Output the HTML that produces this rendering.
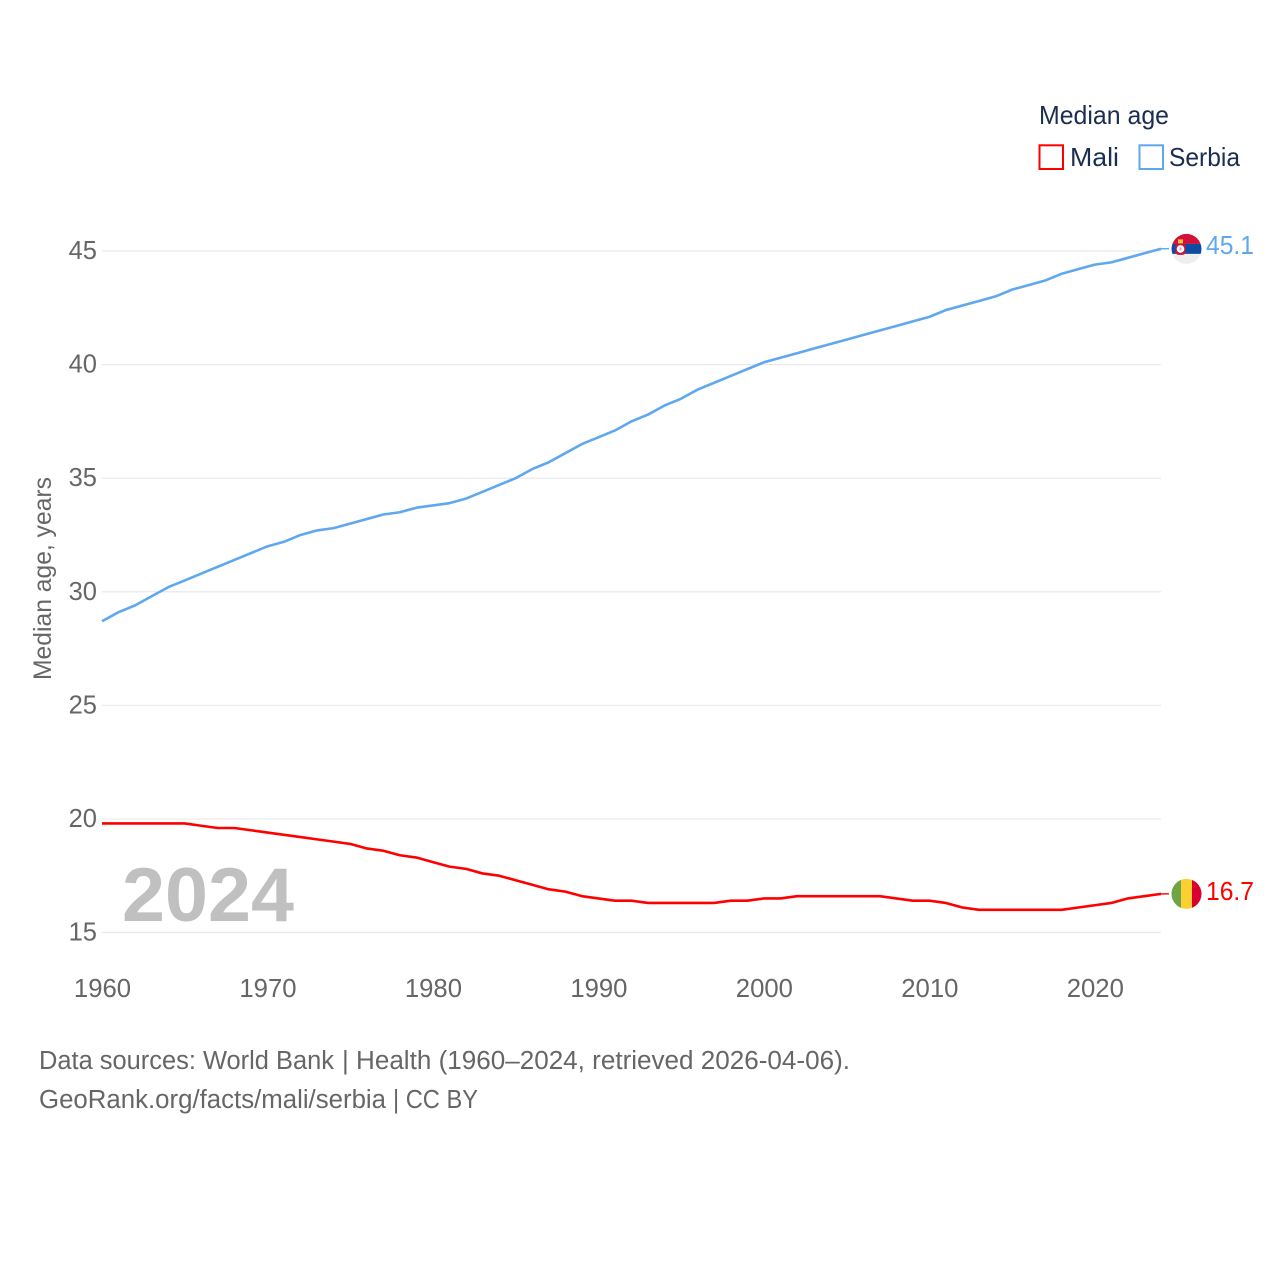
<!DOCTYPE html>
<html lang="en">
<head>
<meta charset="utf-8">
<title>Median age: Mali and Serbia</title>
<style>
html,body{margin:0;padding:0;background:#fff;width:1280px;height:1280px;overflow:hidden}
svg{display:block}
text{font-family:"Liberation Sans",sans-serif}
</style>
</head>
<body>
<svg id="chart" xmlns="http://www.w3.org/2000/svg" width="1280" height="1280" viewBox="0 0 1280 1280">
  <defs>
    <clipPath id="flag-clip-serbia"><circle id="clip-serbia" cx="1186.5" cy="248.5" r="15"></circle></clipPath>
    <clipPath id="flag-clip-mali"><circle id="clip-mali" cx="1186.5" cy="893" r="15"></circle></clipPath>
  </defs>
  <rect width="1280" height="1280" fill="#ffffff"></rect>
  <g id="grid"></g>
  <g id="y-ticks"></g>
  <g id="x-ticks"></g>
  <text transform="translate(51,680) rotate(-90)" font-size="25" fill="#666666" textLength="203" lengthAdjust="spacingAndGlyphs">Median age, years</text>
  <text x="122" y="921" font-size="76" font-weight="700" fill="#c0c0c0" textLength="172" lengthAdjust="spacingAndGlyphs">2024</text>
  <g id="series"></g>
  <g id="flags"></g>
  <g>
    <text x="1039" y="124" font-size="26" fill="#1a2e4f" textLength="130" lengthAdjust="spacingAndGlyphs">Median age</text>
    <rect x="1039.5" y="145.3" width="23.5" height="23.7" fill="none" stroke="#ff0000" stroke-width="2"></rect>
    <text x="1070" y="166" font-size="26" fill="#1a2e4f" textLength="49" lengthAdjust="spacingAndGlyphs">Mali</text>
    <rect x="1139.5" y="145.3" width="23.5" height="23.7" fill="none" stroke="#5fa8ee" stroke-width="2"></rect>
    <text x="1169" y="166" font-size="26" fill="#1a2e4f" textLength="71" lengthAdjust="spacingAndGlyphs">Serbia</text>
  </g>
  <g font-size="25.5" fill="#666666">
    <text x="39" y="1069" textLength="295" lengthAdjust="spacingAndGlyphs">Data sources: World Bank</text>
    <text x="342" y="1069" textLength="508" lengthAdjust="spacingAndGlyphs">| Health (1960–2024, retrieved 2026-04-06).</text>
  </g>
  <g font-size="25.5" fill="#666666">
    <text x="39" y="1108" textLength="347" lengthAdjust="spacingAndGlyphs">GeoRank.org/facts/mali/serbia</text>
    <text x="393" y="1108" textLength="85" lengthAdjust="spacingAndGlyphs">| CC BY</text>
  </g>
</svg>
<script>
const years = [1960,1961,1962,1963,1964,1965,1966,1967,1968,1969,1970,1971,1972,1973,1974,1975,1976,1977,1978,1979,1980,1981,1982,1983,1984,1985,1986,1987,1988,1989,1990,1991,1992,1993,1994,1995,1996,1997,1998,1999,2000,2001,2002,2003,2004,2005,2006,2007,2008,2009,2010,2011,2012,2013,2014,2015,2016,2017,2018,2019,2020,2021,2022,2023,2024];
const serbiaValues = [28.7,29.1,29.4,29.8,30.2,30.5,30.8,31.1,31.4,31.7,32.0,32.2,32.5,32.7,32.8,33.0,33.2,33.4,33.5,33.7,33.8,33.9,34.1,34.4,34.7,35.0,35.4,35.7,36.1,36.5,36.8,37.1,37.5,37.8,38.2,38.5,38.9,39.2,39.5,39.8,40.1,40.3,40.5,40.7,40.9,41.1,41.3,41.5,41.7,41.9,42.1,42.4,42.6,42.8,43.0,43.3,43.5,43.7,44.0,44.2,44.4,44.5,44.7,44.9,45.1];
const maliValues = [19.8,19.8,19.8,19.8,19.8,19.8,19.7,19.6,19.6,19.5,19.4,19.3,19.2,19.1,19.0,18.9,18.7,18.6,18.4,18.3,18.1,17.9,17.8,17.6,17.5,17.3,17.1,16.9,16.8,16.6,16.5,16.4,16.4,16.3,16.3,16.3,16.3,16.3,16.4,16.4,16.5,16.5,16.6,16.6,16.6,16.6,16.6,16.6,16.5,16.4,16.4,16.3,16.1,16.0,16.0,16.0,16.0,16.0,16.0,16.1,16.2,16.3,16.5,16.6,16.7];
const yTickValues = [15,20,25,30,35,40,45];
const xTickValues = [1960,1970,1980,1990,2000,2010,2020];

const NS = 'http://www.w3.org/2000/svg';
const xOf = function (year) { return 102 + (year - 1960) * (1161 - 102) / 64; };
const yOf = function (value) { return 932.5 - (value - 15) * (932.5 - 251) / 30; };

function make(tag, parent, attrs) {
  const el = document.createElementNS(NS, tag);
  Object.keys(attrs).forEach(function (k) { el.setAttribute(k, attrs[k]); });
  parent.appendChild(el);
  return el;
}

const gridGroup = document.getElementById('grid');
const yTickGroup = document.getElementById('y-ticks');
yTickValues.forEach(function (v) {
  const line = make('line', gridGroup, {x1: 102, x2: 1161, y1: yOf(v), y2: yOf(v), stroke: '#e9e9e9', 'stroke-width': 1.2});
  
  
  const label = make('text', yTickGroup, {x: 97, y: yOf(v) + 8, 'font-size': 25.5, fill: '#666666', 'text-anchor': 'end'});
  label.textContent = v;
  
  
});

const xTickGroup = document.getElementById('x-ticks');
xTickValues.forEach(function (y) {
  const label = make('text', xTickGroup, {x: xOf(y) + 0.5, y: 997, 'font-size': 25.7, fill: '#666666', 'text-anchor': 'middle'});
  label.textContent = y;
  
  
});

const seriesGroup = document.getElementById('series');
function drawSeries(name, values, color) {
  const d = values.map(function (v, i) {
    return (i ? 'L' : 'M') + xOf(years[i]).toFixed(2) + ' ' + yOf(v).toFixed(2);
  }).join(' ');
  const path = make('path', seriesGroup, {d: d, fill: 'none', stroke: color, 'stroke-width': 2.6, 'stroke-linejoin': 'round'});
  
  
  const last = values[values.length - 1];
  const lastX = xOf(years[years.length - 1]);
  const lead = make('line', seriesGroup, {x1: lastX, x2: lastX + 8, y1: yOf(last), y2: yOf(last), stroke: color, 'stroke-width': 1.4});
  
  
}
drawSeries('serbia', serbiaValues, '#5fa8ee');
drawSeries('mali', maliValues, '#ff0000');

const flagsGroup = document.getElementById('flags');
const serbiaLast = serbiaValues[serbiaValues.length - 1];
const maliLast = maliValues[maliValues.length - 1];
const serbiaY = yOf(serbiaLast) + 0.2;
const maliY = yOf(maliLast);
document.getElementById('clip-serbia').setAttribute('cy', serbiaY);
document.getElementById('clip-mali').setAttribute('cy', maliY);

const serbiaFlag = make('g', flagsGroup, {'clip-path': 'url(#flag-clip-serbia)'});


make('rect', serbiaFlag, {x: 1171, y: serbiaY - 16, width: 31, height: 11, fill: '#d2103a'});
make('rect', serbiaFlag, {x: 1171, y: serbiaY - 5, width: 31, height: 10, fill: '#0c4da2'});
make('rect', serbiaFlag, {x: 1171, y: serbiaY + 5, width: 31, height: 11, fill: '#eeeeee'});
make('rect', serbiaFlag, {x: 1175.5, y: serbiaY - 6, width: 10, height: 12, rx: 3, fill: '#d2103a'});
make('rect', serbiaFlag, {x: 1178, y: serbiaY - 9.5, width: 5, height: 4, fill: '#f3c33c'});
make('circle', serbiaFlag, {cx: 1180.5, cy: serbiaY, r: 3.8, fill: '#ffffff'});
make('rect', serbiaFlag, {x: 1179.5, y: serbiaY - 1.5, width: 2, height: 3, fill: '#e8a0a8'});

const maliFlag = make('g', flagsGroup, {'clip-path': 'url(#flag-clip-mali)'});


make('rect', maliFlag, {x: 1171, y: maliY - 16, width: 10, height: 32, fill: '#6fa544'});
make('rect', maliFlag, {x: 1181, y: maliY - 16, width: 11, height: 32, fill: '#fcd030'});
make('rect', maliFlag, {x: 1192, y: maliY - 16, width: 11, height: 32, fill: '#d9002f'});

const serbiaLabel = make('text', flagsGroup, {x: 1206, y: yOf(serbiaLast) + 5.5, 'font-size': 25.5, fill: '#5fa8ee', textLength: 48, lengthAdjust: 'spacingAndGlyphs'});
serbiaLabel.textContent = serbiaLast.toFixed(1);



const maliLabel = make('text', flagsGroup, {x: 1206, y: yOf(maliLast) + 6, 'font-size': 25.5, fill: '#ff0000', textLength: 48, lengthAdjust: 'spacingAndGlyphs'});
maliLabel.textContent = maliLast.toFixed(1);


</script>
</body>
</html>
